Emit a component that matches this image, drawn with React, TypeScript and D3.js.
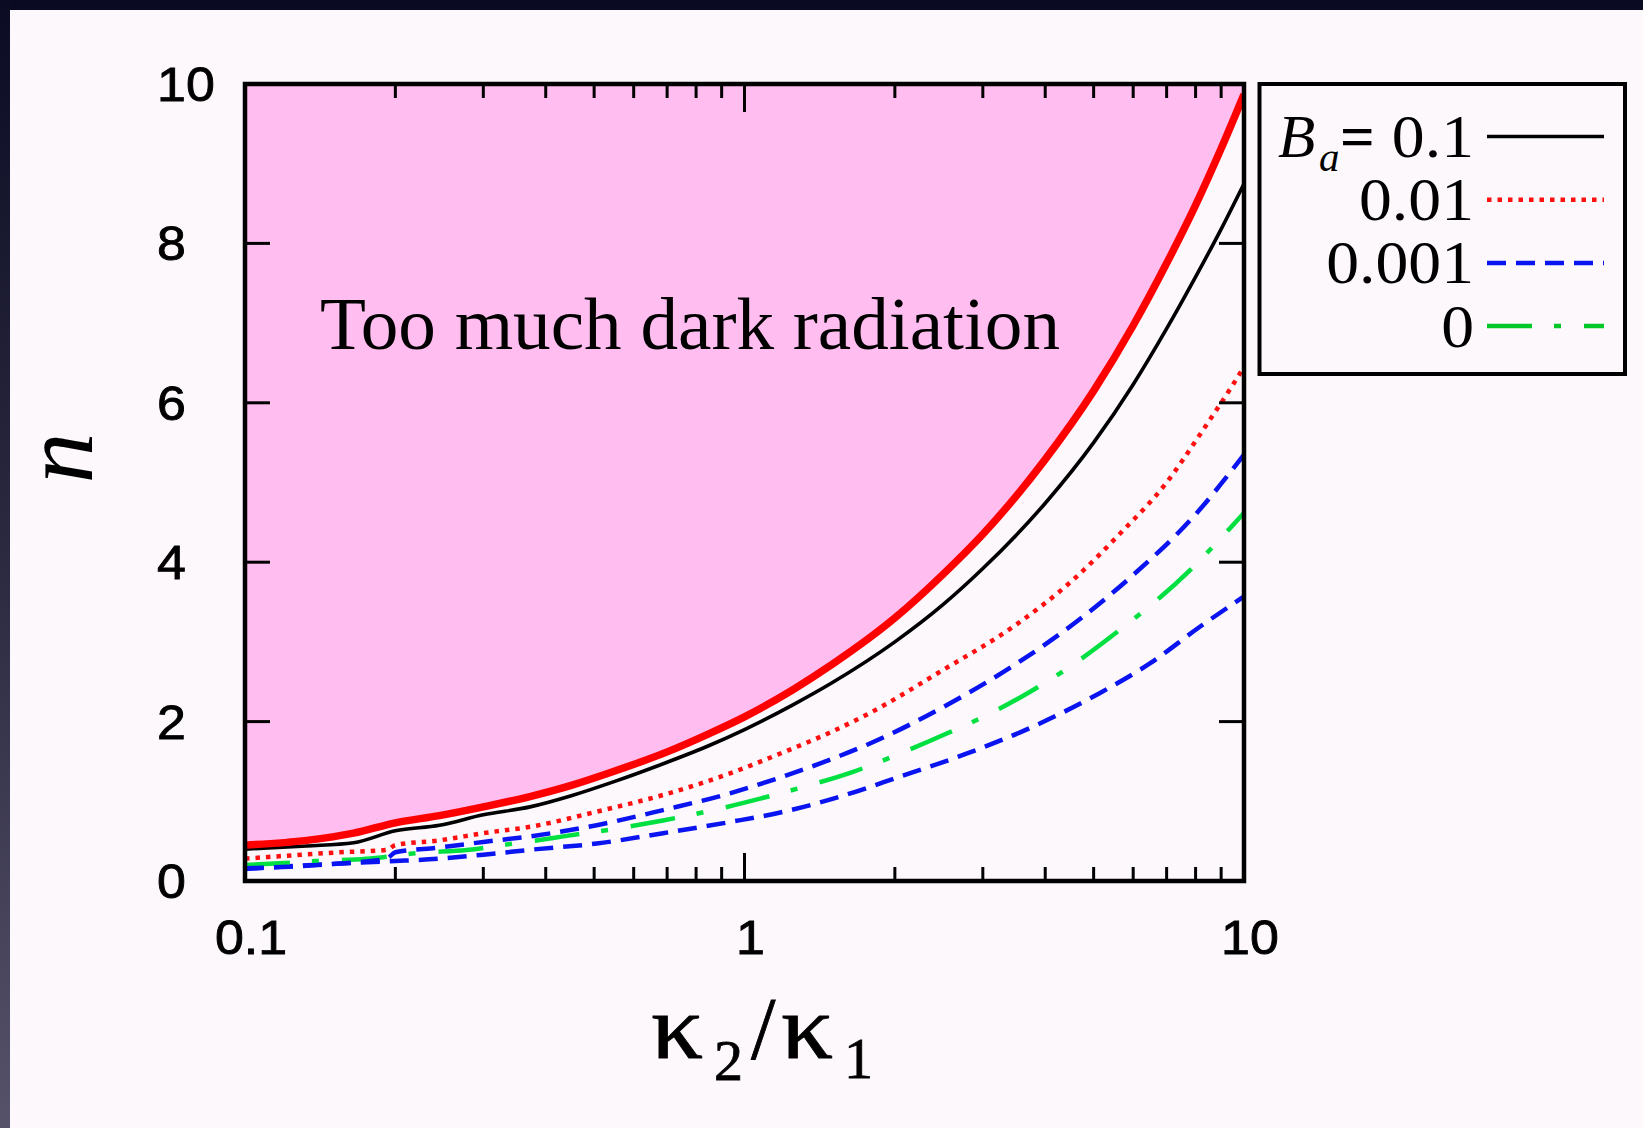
import React from 'react';
import * as d3 from 'd3';

const W = 1643;
const H = 1128;

// ---- data ----
const boundaryX = [0.1, 0.133, 0.165, 0.2, 0.245, 0.3, 0.372, 0.45, 0.55, 0.7, 0.85, 1, 1.25, 1.5, 2, 2.5, 3, 4, 5, 6, 7, 8, 9, 10];
const boundaryN = [0.45, 0.51, 0.6, 0.73, 0.82, 0.93, 1.06, 1.2, 1.38, 1.62, 1.85, 2.06, 2.4, 2.72, 3.3, 3.85, 4.35, 5.29, 6.15, 6.97, 7.75, 8.48, 9.19, 9.87];

const ba01X = [0.1, 0.133, 0.165, 0.2, 0.245, 0.3, 0.372, 0.45, 0.55, 0.7, 0.85, 1, 1.25, 1.5, 2, 2.5, 3, 4, 5, 6, 7, 8, 9, 10];
const ba01N = [0.4, 0.44, 0.48, 0.63, 0.7, 0.83, 0.93, 1.07, 1.25, 1.49, 1.7, 1.9, 2.21, 2.49, 3.0, 3.47, 3.92, 4.74, 5.5, 6.23, 6.93, 7.58, 8.18, 8.75];

const ba001X = [0.1, 0.155, 0.192, 0.2, 0.245, 0.3, 0.372, 0.506, 0.687, 0.935, 1.18, 1.48, 1.76, 2.5, 3.45, 4.55, 5.65, 7.0, 8.16, 9.53, 10];
const ba001N = [0.28, 0.36, 0.39, 0.45, 0.51, 0.6, 0.68, 0.87, 1.08, 1.35, 1.6, 1.86, 2.09, 2.65, 3.19, 3.78, 4.36, 5.0, 5.6, 6.24, 6.45];

const ba0001X = [0.1, 0.123, 0.155, 0.192, 0.2, 0.245, 0.3, 0.372, 0.506, 0.687, 0.935, 1.18, 1.48, 1.76, 2.58, 3.51, 4.77, 6.0, 7.92, 10];
const ba0001N = [0.16, 0.18, 0.22, 0.28, 0.36, 0.42, 0.49, 0.56, 0.7, 0.89, 1.1, 1.3, 1.52, 1.71, 2.23, 2.73, 3.32, 3.84, 4.57, 5.35];

const ba0X = [0.1, 0.123, 0.139, 0.175, 0.195, 0.22, 0.278, 0.345, 0.395, 0.434, 0.546, 0.687, 0.853, 1.07, 1.31, 1.65, 2.05, 2.54, 3.1, 3.79, 4.63, 5.56, 7.8, 9.23, 10];
const ba0N = [0.2, 0.23, 0.25, 0.28, 0.31, 0.35, 0.39, 0.47, 0.52, 0.56, 0.65, 0.76, 0.88, 1.03, 1.18, 1.37, 1.6, 1.85, 2.1, 2.4, 2.75, 3.12, 3.9, 4.38, 4.62];

const lowerX = [0.1, 0.155, 0.2, 0.245, 0.3, 0.384, 0.506, 0.687, 0.935, 1.18, 1.5, 2.05, 2.79, 3.79, 5.15, 6.48, 8.16, 10];
const lowerN = [0.15, 0.22, 0.25, 0.28, 0.33, 0.4, 0.47, 0.6, 0.74, 0.86, 1.03, 1.31, 1.6, 1.94, 2.36, 2.73, 3.19, 3.57];

const yTicks = [0, 2, 4, 6, 8, 10];
const xMajor = [0.1, 1, 10];
const xMajorLabels = ['0.1', '1', '10'];
const xMinor = [0.2, 0.3, 0.4, 0.5, 0.6, 0.7, 0.8, 0.9, 2, 3, 4, 5, 6, 7, 8, 9];
const legendLabels = ['0.1', '0.01', '0.001', '0'];

const SANS = '"Liberation Sans", Arial, Helvetica, sans-serif';
const SERIF = '"Liberation Serif", "Times New Roman", Times, serif';

export default function App() {
  const x = d3.scaleLog().domain([0.1, 10]).range([245, 1244]);
  const y = d3.scaleLinear().domain([0, 10]).range([881, 84]);

  const mkLine = (xs: number[], ns: number[]) =>
    d3
      .line<number>()
      .x((_, i) => x(xs[i]))
      .y((d) => y(d))
      .curve(d3.curveMonotoneX)(ns) as string;

  const areaPath = d3
    .area<number>()
    .x((_, i) => x(boundaryX[i]))
    .y0(y(10))
    .y1((d) => y(d))
    .curve(d3.curveMonotoneX)(boundaryN) as string;

  const series = [
    { xs: lowerX, ns: lowerN, color: '#0a14f0', width: 4.5, dash: '19 10' },
    { xs: ba0X, ns: ba0N, color: '#00e040', width: 4.5, dash: '45 22 7 23' },
    { xs: ba0001X, ns: ba0001N, color: '#0a14f0', width: 4.5, dash: '19 10' },
    { xs: ba001X, ns: ba001N, color: '#ff1010', width: 4.5, dash: '4.5 6' },
    { xs: ba01X, ns: ba01N, color: '#000000', width: 3.6, dash: undefined },
    { xs: boundaryX, ns: boundaryN, color: '#ff0000', width: 7.5, dash: undefined },
  ];

  const legendStyles = [
    { color: '#000000', width: 3.6, dash: undefined },
    { color: '#ff1010', width: 4.5, dash: '4.5 6' },
    { color: '#0a14f0', width: 4.5, dash: '19 10' },
    { color: '#00c828', width: 4.5, dash: '45 22 7 23' },
  ];

  const left = x.range()[0];
  const right = x.range()[1];
  const top = y.range()[1];
  const bottom = y.range()[0];

  return (
    <svg
      width={W}
      height={H}
      viewBox={`0 0 ${W} ${H}`}
      style={{ position: 'absolute', left: 0, top: 0, display: 'block' }}
    >
      <defs>
        <linearGradient id="leftband" x1="0" y1="0" x2="0" y2="1">
          <stop offset="0" stopColor="#0b0c24" />
          <stop offset="0.5" stopColor="#2c2a40" />
          <stop offset="1" stopColor="#55526a" />
        </linearGradient>
        <clipPath id="plotclip">
          <rect x={left} y={top} width={right - left} height={bottom - top} />
        </clipPath>
      </defs>

      <rect x={0} y={0} width={W} height={H} fill="#fcf8fc" />
      <rect x={0} y={0} width={W} height={10} fill="#0a0b22" />
      <rect x={0} y={0} width={10} height={H} fill="url(#leftband)" />

      <g clipPath="url(#plotclip)">
        <path d={areaPath} fill="#ffbdf0" />
        {series.map((s, i) => (
          <path
            key={i}
            d={mkLine(s.xs, s.ns)}
            fill="none"
            stroke={s.color}
            strokeWidth={s.width}
            strokeDasharray={s.dash}
          />
        ))}
      </g>

      <text
        x={320}
        y={349}
        fontFamily={SERIF}
        fontSize={73}
        textLength={740}
        lengthAdjust="spacingAndGlyphs"
        fill="#000"
      >
        Too much dark radiation
      </text>

      {/* ticks */}
      <g stroke="#000" strokeWidth={3}>
        {yTicks
          .filter((t) => t > 0 && t < 10)
          .map((t) => (
            <g key={t}>
              <line x1={left} x2={left + 25} y1={y(t)} y2={y(t)} />
              <line x1={right} x2={right - 25} y1={y(t)} y2={y(t)} />
            </g>
          ))}
        {xMinor.map((t) => (
          <g key={t}>
            <line x1={x(t)} x2={x(t)} y1={bottom} y2={bottom - 14} />
            <line x1={x(t)} x2={x(t)} y1={top} y2={top + 14} />
          </g>
        ))}
        {xMajor
          .filter((t) => t > 0.1 && t < 10)
          .map((t) => (
            <g key={t}>
              <line x1={x(t)} x2={x(t)} y1={bottom} y2={bottom - 28} />
              <line x1={x(t)} x2={x(t)} y1={top} y2={top + 28} />
            </g>
          ))}
      </g>
      <rect
        x={left}
        y={top}
        width={right - left}
        height={bottom - top}
        fill="none"
        stroke="#000"
        strokeWidth={4.5}
      />

      {/* y tick labels */}
      {yTicks.map((t) => (
        <text
          key={t}
          transform={`translate(157, ${y(t) + 17}) scale(1.06, 1)`}
          fontFamily={SANS}
          fontSize={49}
          fill="#000"
          stroke="#000"
          strokeWidth={0.9}
        >
          {t}
        </text>
      ))}

      {/* x tick labels */}
      {xMajor.map((t, i) => (
        <text
          key={t}
          transform={`translate(${x(t) + 6}, 954) scale(1.06, 1)`}
          textAnchor="middle"
          fontFamily={SANS}
          fontSize={49}
          fill="#000"
          stroke="#000"
          strokeWidth={0.9}
        >
          {xMajorLabels[i]}
        </text>
      ))}

      {/* y axis title */}
      <text
        transform="translate(92, 458) rotate(-90)"
        textAnchor="middle"
        fontFamily={SERIF}
        fontStyle="italic"
        fontSize={102}
        fill="#000"
      >
        n
      </text>

      {/* x axis title */}
      <g fontFamily={SERIF} fill="#000" stroke="#000" strokeWidth={0.8}>
        <text transform="translate(651, 1058) scale(1.15, 1)" fontSize={90}>κ</text>
        <text x={714} y={1080} fontSize={58}>2</text>
        <text x={751} y={1058} fontSize={88}>/</text>
        <text transform="translate(781, 1058) scale(1.15, 1)" fontSize={90}>κ</text>
        <text x={844} y={1078} fontSize={58}>1</text>
      </g>

      {/* legend */}
      <rect x={1259.5} y={84} width={365.5} height={290} fill="#fcf8fc" stroke="#000" strokeWidth={4} />
      <g fontFamily={SERIF} fill="#000">
        <text x={1278} y={157} fontSize={61} fontStyle="italic">B</text>
        <text x={1319} y={171} fontSize={41} fontStyle="italic">a</text>
        <text x={1340} y={157} fontSize={61} fontWeight="bold">=</text>
        {legendLabels.map((lab, i) => (
          <text
            key={lab}
            transform={`translate(1474, ${157 + i * 63.2}) scale(1.06, 1)`}
            textAnchor="end"
            fontSize={62}
          >
            {lab}
          </text>
        ))}
      </g>
      {legendStyles.map((s, i) => (
        <line
          key={i}
          x1={1487}
          x2={1604}
          y1={136.5 + i * 63.2}
          y2={136.5 + i * 63.2}
          stroke={s.color}
          strokeWidth={s.width}
          strokeDasharray={s.dash}
        />
      ))}
    </svg>
  );
}
